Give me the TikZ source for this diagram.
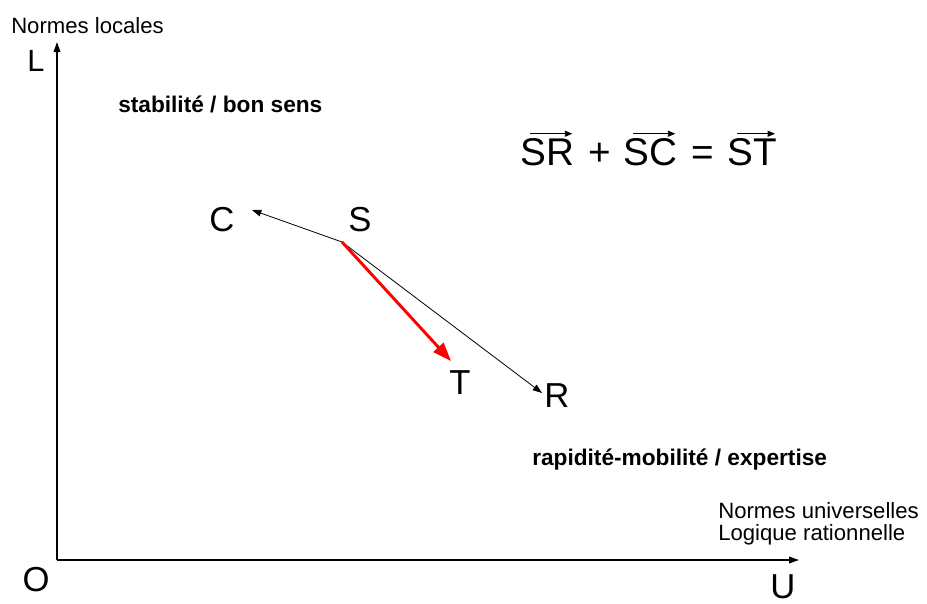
\documentclass[tikz,border=0pt]{standalone}
\usepackage{fontspec}
\setmainfont{Liberation Sans}
\usetikzlibrary{arrows.meta}
\begin{document}
\begin{tikzpicture}[x=0.75pt,y=-0.75pt,
  big/.style={inner sep=0pt,font=\fontsize{26}{30}\selectfont},
  small/.style={inner sep=0pt,font=\fontsize{16.6}{19}\selectfont},
  boldlbl/.style={inner sep=0pt,font=\fontsize{17}{20}\selectfont\bfseries},
  eqtxt/.style={inner sep=0pt,font=\fontsize{29}{34}\selectfont,anchor=base west},
  axis/.style={line width=1pt,-{Triangle[length=7.5pt,width=5pt]}},
  vecline/.style={line width=0.6pt,-{Triangle[length=7pt,width=5pt]}},
  redvec/.style={draw=red,line width=2.2pt,-{Triangle[length=14pt,width=10pt]}},
  overarrow/.style={line width=0.6pt,-{Triangle[length=5.5pt,width=4.5pt]}}]
\useasboundingbox (0,0) rectangle (927,603);
% axes
\coordinate (O) at (57,560);
\coordinate (Ltip) at (57,42);
\coordinate (Utip) at (799,560);
\draw[axis] (O) -- (Ltip);
\draw[axis] (O) -- (Utip);
% axis labels
\node[small,anchor=base west] (nl) at (11,33) {Normes locales};
\node[big,font=\fontsize{23}{27}\selectfont] (L) at (36,61) {L};
\node[big] (Olbl) at (36,580) {O};
\node[big,anchor=north] (U) at (783,574) {U};
\node[small,anchor=north west,align=left] (nu) at (718,502) {Normes universelles\\[-2pt]Logique rationnelle};
% region labels
\node[boldlbl,anchor=base west] (stab) at (118,112) {stabilité / bon sens};
\node[boldlbl,anchor=base west] (rap) at (532,465) {rapidité-mobilité / expertise};
% vectors
\coordinate (s) at (342,242);
\coordinate (ctip) at (252,210);
\coordinate (rtip) at (542,393);
\coordinate (ttip) at (451,361);
\draw[vecline] (s) -- (ctip);
\draw[vecline] (s) -- (rtip);
\draw[redvec] (s) -- (ttip);
\node[big] (C) at (222,220) {C};
\node[big] (S) at (360,220) {S};
\node[big] (T) at (460,383) {T};
\node[big] (R) at (557,396) {R};
% equation
\node[eqtxt] (sr) at (520,165) {SR};
\node[eqtxt] (plus) at (588,165) {+};
\node[eqtxt] (sc) at (623,165) {SC};
\node[eqtxt] (eq) at (691,165) {=};
\node[eqtxt] (st) at (727,165) {ST};
\draw[overarrow] ([shift={(10,-4)}]sr.north west) -- ([shift={(-2,-4)}]sr.north east);
\draw[overarrow] ([shift={(10,-4)}]sc.north west) -- ([shift={(-2,-4)}]sc.north east);
\draw[overarrow] ([shift={(10,-4)}]st.north west) -- ([shift={(-2,-4)}]st.north east);
\end{tikzpicture}
\end{document}
